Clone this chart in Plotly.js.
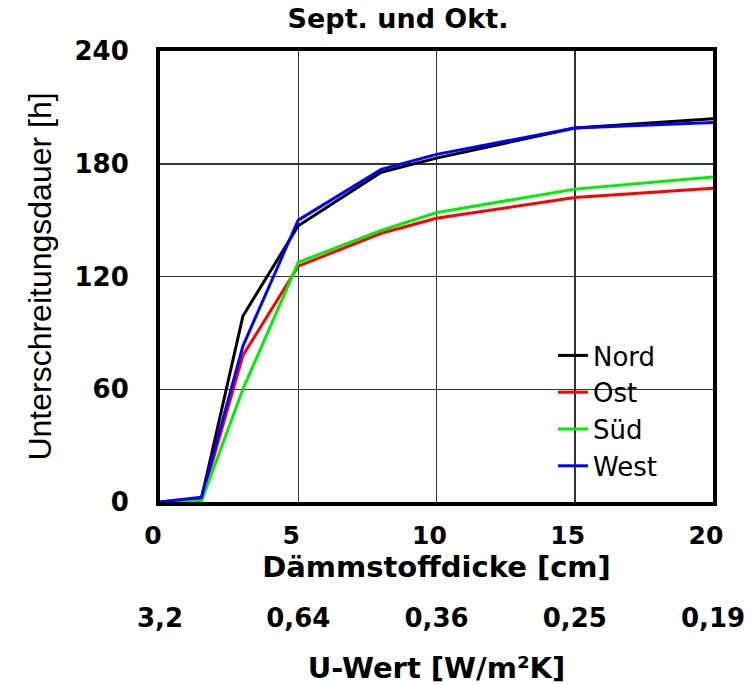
<!DOCTYPE html>
<html>
<head>
<meta charset="utf-8">
<script src="https://cdn.plot.ly/plotly-3.0.1.min.js"></script>
<style>html,body{margin:0;padding:0;background:#fff;}#chart{width:756px;height:685px;}</style>
</head>
<body>
<div id="chart"></div>
<script>
// Dämmstoffdicke [cm]
const thickness = [0, 1.5, 3, 5, 8, 10, 15, 20];
// Unterschreitungsdauer [h]
const nord = [0, 2, 99, 147, 175.5, 183, 199, 204];
const ost  = [0, 1, 78, 125.5, 143, 151, 162, 167];
const sued = [0, 0.5, 60, 127.5, 144.5, 154, 166.5, 173];
const west = [0, 2.5, 83, 150, 177, 185, 199, 202];

const seriesNames = ['Nord', 'Ost', 'Süd', 'West'];
const seriesColors = ['#000000', '#ff0000', '#00ee00', '#0000ff'];

const xTicks = [0, 5, 10, 15, 20];
const uTickText = ['3,2', '0,64', '0,36', '0,25', '0,19'];
const yTicks = [0, 60, 120, 180, 240];

const seriesValues = [nord, ost, sued, west];
const traces = seriesValues.map((vals, i) => ({
  type: 'scatter',
  mode: 'lines',
  x: thickness,
  y: vals,
  name: seriesNames[i],
  line: {color: seriesColors[i], width: 3},
  xaxis: 'x',
  yaxis: 'y'
}));

// invisible trace on the second (U-value) axis so it is drawn
traces.push({
  type: 'scatter', mode: 'markers', x: [xTicks[0], xTicks[xTicks.length - 1]], y: [0, 0],
  xaxis: 'x2', yaxis: 'y', showlegend: false, hoverinfo: 'skip',
  marker: {opacity: 0}
});

const W = 756, H = 685, mt = 51, mb = 0;
const plotH = H - mt - mb;
const plotBottom = 502;
const domBottom = (H - mb - plotBottom) / plotH;

const layout = {
  width: W, height: H,
  margin: {l: 160, r: 43, t: mt, b: mb},
  paper_bgcolor: '#ffffff',
  plot_bgcolor: '#ffffff',
  showlegend: true,
  title: {
    text: 'Sept. und Okt.',
    font: {family: 'DejaVu Sans', size: 27, color: '#000', weight: 'bold'},
    x: 398 / W, xref: 'container', xanchor: 'center',
    y: 1 - 19 / H, yref: 'container', yanchor: 'middle'
  },
  xaxis: {
    range: [0, 20],
    tickvals: xTicks,
    ticktext: xTicks.map(String),
    ticks: '',
    ticklabelstandoff: 8,
    ticklabelshift: -7,
    tickfont: {family: 'DejaVu Sans', size: 25, color: '#000', weight: 'bold'},
    showgrid: true, gridcolor: '#333333', gridwidth: 1.5,
    showline: true, linecolor: '#000', linewidth: 4, mirror: true,
    zeroline: false,
    title: {
      text: 'Dämmstoffdicke [cm]',
      font: {family: 'DejaVu Sans', size: 29, color: '#000', weight: 'bold'},
      standoff: 3
    }
  },
  xaxis2: {
    overlaying: 'x',
    anchor: 'free',
    side: 'bottom',
    position: (H - mb - 600) / plotH,
    range: [0, 20],
    tickvals: xTicks,
    ticktext: uTickText,
    ticks: '',
    showline: false, showgrid: false, zeroline: false,
    tickfont: {family: 'DejaVu Sans', size: 26, color: '#000', weight: 'bold'},
    title: {
      text: 'U-Wert [W/m²K]',
      font: {family: 'DejaVu Sans', size: 29, color: '#000', weight: 'bold'},
      standoff: 27
    }
  },
  yaxis: {
    domain: [domBottom, 1],
    range: [0, 240],
    tickvals: yTicks,
    ticks: '',
    ticklabelstandoff: 22,
    tickfont: {family: 'DejaVu Sans', size: 26, color: '#000', weight: 'bold'},
    showgrid: true, gridcolor: '#333333', gridwidth: 1.5,
    showline: true, linecolor: '#000', linewidth: 4, mirror: true,
    zeroline: false,
    title: {
      text: 'Unterschreitungsdauer [h]',
      font: {family: 'Liberation Sans', size: 32, color: '#000'},
      standoff: 14
    }
  },
  legend: {
    x: (553 - 160) / (W - 160 - 43), xanchor: 'left',
    y: (H - mb - 332) / plotH, yanchor: 'top',
    bgcolor: 'rgba(255,255,255,0)',
    borderwidth: 0,
    font: {family: 'DejaVu Sans', size: 26, color: '#000'},
    tracegroupgap: 0
  }
};

Plotly.newPlot('chart', traces, layout, {displayModeBar: false, staticPlot: true});
</script>
</body>
</html>
